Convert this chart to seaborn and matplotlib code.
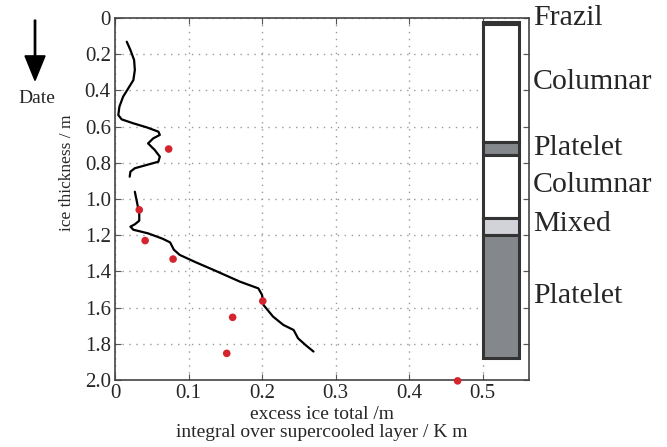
import matplotlib
matplotlib.use("Agg")
import matplotlib.pyplot as plt
import seaborn as sns
import pandas as pd

# excess ice profile (two segments, gap near 0.9 m)
line1_x = [0.016, 0.021, 0.026, 0.027, 0.025, 0.018, 0.011, 0.006, 0.0045, 0.009, 0.025, 0.043,
           0.059, 0.061, 0.052, 0.045, 0.054, 0.061, 0.059, 0.043, 0.027, 0.021, 0.020]
line1_y = [0.131, 0.177, 0.232, 0.287, 0.343, 0.389, 0.435, 0.49, 0.536, 0.56, 0.582, 0.604,
           0.628, 0.646, 0.665, 0.693, 0.729, 0.766, 0.794, 0.812, 0.83, 0.849, 0.877]
line2_x = [0.027, 0.030, 0.033, 0.033, 0.027, 0.021, 0.025, 0.045, 0.065, 0.075, 0.080, 0.088,
           0.110, 0.134, 0.170, 0.195, 0.200, 0.202, 0.215, 0.229, 0.243, 0.249, 0.260, 0.270]
line2_y = [0.96, 1.02, 1.08, 1.12, 1.14, 1.153, 1.17, 1.19, 1.22, 1.24, 1.28, 1.309,
           1.35, 1.392, 1.457, 1.494, 1.53, 1.586, 1.65, 1.696, 1.724, 1.77, 1.81, 1.843]

# integral over supercooled layer
dots_x = [0.073, 0.033, 0.041, 0.079, 0.201, 0.160, 0.152, 0.466]
dots_y = [0.724, 1.06, 1.23, 1.332, 1.564, 1.654, 1.853, 2.005]

# ice core stratigraphy
layer_names = ["Frazil", "Columnar", "Platelet", "Columnar", "Mixed", "Platelet"]
layer_top = [0.02, 0.035, 0.685, 0.757, 1.105, 1.20]
layer_bottom = [0.035, 0.685, 0.757, 1.105, 1.20, 1.88]
layer_label_y = [0.0, 0.355, 0.718, 0.92, 1.14, 1.535]
layer_colors = ["#555555", "white", "#84888c", "white", "#d2d3d8", "#84888c"]

sns.set_style("ticks")
plt.rcParams["font.family"] = ["Liberation Serif", "DejaVu Serif"]

fig = plt.figure(figsize=(6.67, 4.47), dpi=100)
ax = fig.add_axes([0.1724, 0.15, 0.6206, 0.8097])

seg1 = pd.DataFrame({"x": line1_x, "y": line1_y})
seg2 = pd.DataFrame({"x": line2_x, "y": line2_y})
for seg in (seg1, seg2):
    sns.lineplot(data=seg, x="x", y="y", sort=False, estimator=None,
                 color="black", lw=1.6, ax=ax)
sns.scatterplot(x=dots_x, y=dots_y, color="#d4252f", s=30, edgecolor="none",
                ax=ax, clip_on=False, zorder=5)

heights = [b - t for t, b in zip(layer_top, layer_bottom)]
ax.bar([0.525] * len(layer_top), heights, bottom=layer_top, width=0.05,
       color=layer_colors, edgecolor="#333333", linewidth=2.2, zorder=3)

for name, yy in zip(layer_names, layer_label_y):
    ax.text(1.01, yy, name, transform=ax.get_yaxis_transform(), fontsize=21.5,
            va="center", ha="left")

ax.set_xlim(0, 0.563)
ax.set_ylim(2.0, 0)
ax.set_xticks([0, 0.1, 0.2, 0.3, 0.4, 0.5])
ax.set_xticklabels(["0", "0.1", "0.2", "0.3", "0.4", "0.5"], fontsize=15)
ax.set_yticks([0, 0.2, 0.4, 0.6, 0.8, 1.0, 1.2, 1.4, 1.6, 1.8, 2.0])
ax.set_yticklabels(["0", "0.2", "0.4", "0.6", "0.8", "1.0", "1.2", "1.4", "1.6", "1.8", "2.0"],
                   fontsize=15)
ax.tick_params(direction="in", length=4, top=True, right=True, color="#555555", pad=3)
ax.grid(True, linestyle=(0, (1, 4)), color="#999999", linewidth=1.0)
for s in ax.spines.values():
    s.set_color("#444444")
    s.set_linewidth(1.2)

ax.set_xlabel("excess ice total /m\nintegral over supercooled layer / K m",
              fontsize=14, linespacing=1.05, labelpad=2)
ax.set_ylabel("ice thickness / m", fontsize=12.5)
ax.yaxis.set_label_coords(-0.097, 0.572)

fig.patches.append(matplotlib.patches.FancyArrow(
    0.0525, 0.955, 0, -0.135, width=0.002, head_width=0.03, head_length=0.055,
    length_includes_head=True, color="black", transform=fig.transFigure))
fig.text(0.055, 0.78, "Date", fontsize=14, ha="center", va="center")

plt.savefig("out.png", dpi=100)
